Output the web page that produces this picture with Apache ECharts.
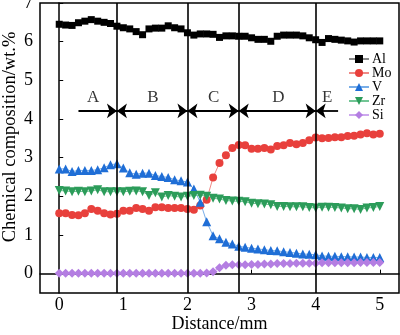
<!DOCTYPE html>
<html>
<head>
<meta charset="utf-8">
<script src="https://cdn.jsdelivr.net/npm/echarts@6/dist/echarts.min.js"></script>
<style>html,body{margin:0;padding:0;background:#fff;}#c{width:400px;height:335px;}</style>
</head>
<body>
<div id="c"></div>
<script>
var distance = [0,0.1,0.2,0.3,0.4,0.5,0.6,0.7,0.8,0.9,1,1.1,1.2,1.3,1.4,1.5,1.6,1.7,1.8,1.9,2,2.1,2.2,2.3,2.4,2.5,2.6,2.7,2.8,2.9,3,3.1,3.2,3.3,3.4,3.5,3.6,3.7,3.8,3.9,4,4.1,4.2,4.3,4.4,4.5,4.6,4.7,4.8,4.9,5];
var alValues = [6.45,6.43,6.42,6.49,6.53,6.57,6.53,6.50,6.47,6.40,6.36,6.33,6.26,6.18,6.33,6.35,6.35,6.41,6.36,6.33,6.23,6.17,6.20,6.20,6.19,6.11,6.15,6.15,6.14,6.14,6.10,6.06,6.06,6.01,6.14,6.17,6.17,6.17,6.15,6.10,6.05,5.98,6.08,6.06,6.04,6.02,5.99,6.02,6.02,6.02,6.02];
var moValues = [1.56,1.56,1.52,1.51,1.56,1.67,1.63,1.56,1.53,1.55,1.63,1.63,1.70,1.67,1.63,1.72,1.72,1.70,1.70,1.70,1.67,1.65,1.76,1.91,2.49,2.86,3.06,3.25,3.33,3.32,3.23,3.23,3.25,3.21,3.30,3.32,3.38,3.35,3.38,3.45,3.52,3.50,3.51,3.53,3.53,3.56,3.57,3.60,3.63,3.60,3.62];
var vValues = [2.71,2.71,2.64,2.67,2.67,2.67,2.69,2.74,2.82,2.84,2.73,2.61,2.57,2.60,2.60,2.54,2.51,2.49,2.43,2.40,2.37,2.19,1.85,1.34,0.98,0.90,0.81,0.77,0.71,0.68,0.66,0.64,0.62,0.60,0.59,0.57,0.55,0.53,0.51,0.50,0.49,0.46,0.45,0.45,0.44,0.44,0.43,0.43,0.42,0.42,0.42];
var zrValues = [2.15,2.14,2.12,2.13,2.12,2.14,2.17,2.12,2.12,2.12,2.12,2.13,2.14,2.12,2.02,2.09,1.98,2.02,2.00,1.98,2.00,2.02,2.03,2.00,1.95,1.93,1.89,1.88,1.87,1.86,1.82,1.81,1.80,1.78,1.74,1.74,1.73,1.73,1.73,1.71,1.70,1.72,1.72,1.71,1.70,1.68,1.68,1.66,1.70,1.71,1.74];
var siValues = [0.01,0.01,0.01,0.01,0.01,0.01,0.01,0.01,0.01,0.01,0.01,0.01,0.01,0.01,0.01,0.01,0.01,0.01,0.01,0.01,0.01,0.01,0.01,0.02,0.05,0.15,0.22,0.23,0.23,0.23,0.24,0.24,0.25,0.25,0.26,0.26,0.26,0.27,0.27,0.27,0.27,0.28,0.28,0.28,0.28,0.28,0.28,0.29,0.29,0.29,0.29];
var seriesNames = ['Al','Mo','V','Zr','Si'];
var xTicks = [0,1,2,3,4,5];
var yTicks = [0,1,2,3,4,5,6,7];
var boundaries = [0.9,2.0,2.8,4.0];
var arrowStarts = [0.3,0.9,2.0,2.8,4.0];
var arrowEnds = [0.9,2.0,2.8,4.0,4.35];
var arrowY = 4.21;
var regionLabels = ['A','B','C','D','E'];
var regionLabelX = [0.53,1.46,2.41,3.42,4.18];
var regionLabelY = 4.55;

function pairs(ys){ return distance.map(function(x,i){ return [x, ys[i]]; }); }
var serif = 'Liberation Serif';

var styles = {
  Al: {symbol:'rect', size:7, color:'#000000', line:'#8a8a8a'},
  Mo: {symbol:'circle', size:8, color:'#e8403c', line:'#f08a86'},
  V:  {symbol:'triangle', size:9, color:'#1f6ed6', line:'#79aee8'},
  Zr: {symbol:'path://M0,0 L10,0 L5,9 Z', size:9, color:'#2c9c5a', line:'#72c595'},
  Si: {symbol:'diamond', size:9, color:'#b47ee2', line:'#cda8ee'}
};
var dataMap = {Al: alValues, Mo: moValues, V: vValues, Zr: zrValues, Si: siValues};

var series = seriesNames.map(function(n){
  var s = styles[n];
  return {
    name: n, type: 'line', data: pairs(dataMap[n]),
    symbol: s.symbol, symbolSize: s.size, showSymbol: true,
    itemStyle: {color: s.color, borderWidth: 0},
    lineStyle: {color: s.line, width: 1},
    z: 3
  };
});

var arrowData = arrowStarts.map(function(a,i){
  return [
    {coord:[a, arrowY], symbol: i === 0 ? 'none' : 'arrow'},
    {coord:[arrowEnds[i], arrowY], symbol: i === arrowStarts.length-1 ? 'none' : 'arrow'}
  ];
});

series.push({
  name: 'regions', type: 'scatter', symbolSize: 0,
  data: regionLabels.map(function(l,i){ return [regionLabelX[i], regionLabelY, l]; }),
  label: {show: true, position: 'inside', formatter: function(p){ return p.value[2]; },
          color: '#000', fontFamily: serif, fontSize: 17},
  z: 4,
  markLine: {
    silent: true, symbol: 'none', animation: false,
    label: {show: false},
    lineStyle: {color: '#000', width: 1.6, type: 'solid'},
    data: boundaries.map(function(b){ return {xAxis: b}; })
  }
});
series.push({
  name: 'arrows', type: 'scatter', symbolSize: 0, data: [],
  markLine: {
    silent: true, animation: false, symbolSize: [11, 10],
    label: {show: false},
    lineStyle: {color: '#000', width: 1.8, type: 'solid'},
    data: arrowData
  }
});

var chart = echarts.init(document.getElementById('c'), null, {renderer: 'canvas'});
chart.setOption({
  animation: false,
  backgroundColor: '#fff',
  textStyle: {fontFamily: serif},
  grid: {left: 40, right: 1, top: 3, bottom: 42, outerBoundsMode: 'none', containLabel: false,
         show: true, borderColor: '#000', borderWidth: 1.5, backgroundColor: 'transparent'},
  legend: {
    data: seriesNames, orient: 'vertical', left: 348, top: 52, padding: 0,
    itemWidth: 20, itemHeight: 10, itemGap: 0,
    textStyle: {fontFamily: serif, fontSize: 14, color: '#000', lineHeight: 14, padding: [0,0,0,-2]},
    inactiveColor: '#ccc'
  },
  xAxis: {
    type: 'value', min: -0.3, max: 5.3,
    name: 'Distance/mm', nameLocation: 'middle', nameGap: 22, nameMoveOverlap: false,
    nameTextStyle: {fontFamily: serif, fontSize: 18, color: '#000', verticalAlign: 'top'},
    axisLine: {show: true, lineStyle: {color: '#000', width: 1.5}},
    axisTick: {show: true, inside: true, length: 4, customValues: xTicks, lineStyle: {color: '#000'}},
    axisLabel: {show: true, customValues: xTicks, color: '#000', fontFamily: serif, fontSize: 18, margin: 3},
    splitLine: {show: false}
  },
  yAxis: {
    type: 'value', min: -0.5, max: 7,
    name: 'Chemical composition/wt.%', nameLocation: 'middle', nameGap: 20, nameMoveOverlap: false,
    nameTextStyle: {fontFamily: serif, fontSize: 18.5, color: '#000', padding: [0,0,0,22]},
    axisLine: {show: true, lineStyle: {color: '#000', width: 1.5}},
    axisTick: {show: true, inside: true, length: 4, customValues: yTicks, lineStyle: {color: '#000'}},
    axisLabel: {show: true, customValues: yTicks, color: '#000', fontFamily: serif, fontSize: 18, margin: 7},
    splitLine: {show: false}
  },
  series: series
});
</script>
</body>
</html>
